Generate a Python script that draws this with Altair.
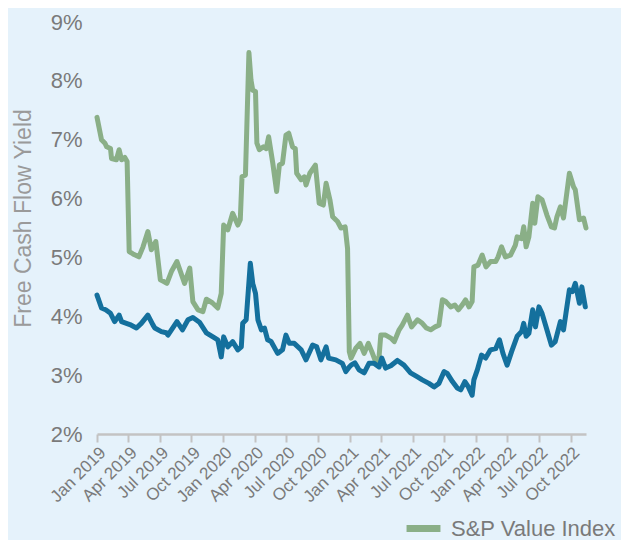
import altair as alt
import pandas as pd

green_dates = ["2019-01-01","2019-01-14","2019-01-24","2019-01-29","2019-02-09","2019-02-12","2019-02-26","2019-03-06","2019-03-13","2019-03-22","2019-03-29",
"2019-04-04","2019-04-15","2019-05-02","2019-05-14","2019-05-28","2019-06-07","2019-06-20","2019-07-03","2019-07-13","2019-07-22","2019-08-04","2019-08-20",
"2019-09-11","2019-09-26","2019-10-05","2019-10-20","2019-11-03","2019-11-13","2019-11-30","2019-12-16","2019-12-26",
"2020-01-02","2020-01-14","2020-01-28","2020-02-12","2020-02-19","2020-02-24","2020-03-05","2020-03-15","2020-03-21","2020-03-26","2020-04-03","2020-04-07",
"2020-04-14","2020-04-26","2020-05-04","2020-05-11","2020-05-23","2020-06-03","2020-06-11","2020-06-20","2020-06-30","2020-07-08","2020-07-19","2020-07-27",
"2020-07-31","2020-08-13","2020-08-22","2020-08-27","2020-09-07","2020-09-23","2020-10-04","2020-10-16","2020-10-24","2020-11-04","2020-11-12","2020-11-26",
"2020-12-06","2020-12-18","2020-12-25","2020-12-30",
"2021-01-04","2021-01-18","2021-01-30","2021-02-11","2021-02-23","2021-03-05","2021-03-16","2021-03-26","2021-03-31","2021-04-14","2021-04-29","2021-05-09",
"2021-05-23","2021-06-01","2021-06-16","2021-06-28","2021-07-15","2021-07-29","2021-08-10","2021-08-22","2021-09-04","2021-09-15","2021-09-25","2021-10-05",
"2021-10-19","2021-10-31","2021-11-10","2021-11-21","2021-12-01","2021-12-11","2021-12-20","2021-12-25",
"2022-01-06","2022-01-18","2022-01-29","2022-02-11","2022-02-26","2022-03-05","2022-03-15","2022-03-26","2022-04-10","2022-04-24","2022-04-29","2022-05-12",
"2022-05-18","2022-05-25","2022-06-02","2022-06-13","2022-06-19","2022-06-28","2022-07-10","2022-07-24","2022-08-06","2022-08-15","2022-08-22","2022-09-01",
"2022-09-10","2022-09-17","2022-09-27","2022-10-09","2022-10-14","2022-10-26","2022-11-07","2022-11-14"]
green_values = [7.38,7.00,6.94,6.88,6.85,6.68,6.66,6.83,6.66,6.70,6.63,
5.10,5.06,5.01,5.18,5.44,5.13,5.27,4.62,4.59,4.56,4.76,4.93,
4.56,4.82,4.25,4.11,4.08,4.29,4.23,4.14,4.39,
5.55,5.47,5.75,5.55,5.64,6.37,6.40,8.48,8.01,7.84,7.82,6.94,
6.83,6.88,6.85,7.05,6.60,6.12,6.57,6.60,7.08,7.11,6.88,6.85,
6.43,6.32,6.37,6.23,6.43,6.57,5.92,5.89,6.26,5.98,5.69,5.61,
5.50,5.52,5.15,3.40,
3.29,3.46,3.54,3.37,3.54,3.40,3.23,3.31,3.68,3.68,3.63,3.57,
3.77,3.85,4.02,3.82,3.94,3.88,3.80,3.77,3.82,3.85,4.28,4.25,
4.16,4.19,4.11,4.19,4.28,4.16,4.25,4.84,
4.87,5.04,4.84,4.93,4.93,5.01,5.18,5.01,5.04,5.21,5.35,5.32,
5.52,5.18,5.35,5.92,5.58,6.03,5.98,5.72,5.52,5.50,5.69,5.86,
5.67,5.98,6.43,6.20,6.15,5.64,5.67,5.50]

blue_dates = ["2019-01-01","2019-01-14","2019-01-26","2019-02-09","2019-02-21","2019-03-06","2019-03-13","2019-04-06","2019-04-25","2019-05-09","2019-05-28",
"2019-06-12","2019-06-17","2019-07-06","2019-07-20","2019-07-25","2019-08-20","2019-09-05","2019-09-21","2019-10-05","2019-10-24","2019-11-13","2019-12-02",
"2019-12-16","2019-12-26",
"2020-01-02","2020-01-14","2020-01-28","2020-02-12","2020-02-22","2020-02-26","2020-03-07","2020-03-19","2020-03-26","2020-04-03","2020-04-10","2020-04-20",
"2020-04-29","2020-05-08","2020-05-18","2020-06-06","2020-06-20","2020-06-30","2020-07-10","2020-07-24","2020-08-13","2020-08-27","2020-09-15","2020-09-27",
"2020-10-09","2020-10-24","2020-10-31","2020-11-21","2020-12-10","2020-12-20","2020-12-30",
"2021-01-04","2021-01-15","2021-01-27","2021-02-11","2021-02-25","2021-03-12","2021-03-26","2021-04-03","2021-04-14","2021-04-29","2021-05-18","2021-06-06",
"2021-06-25","2021-07-15","2021-07-29","2021-08-17","2021-09-01","2021-09-15","2021-09-30","2021-10-09","2021-10-24","2021-11-07","2021-11-17","2021-11-29",
"2021-12-09","2021-12-20","2021-12-25",
"2022-01-04","2022-01-16","2022-01-28","2022-02-11","2022-02-26","2022-03-09","2022-03-19","2022-03-31","2022-04-13","2022-04-29","2022-05-12","2022-05-18",
"2022-05-25","2022-06-02","2022-06-13","2022-06-21","2022-07-01","2022-07-10","2022-07-24","2022-08-06","2022-08-17","2022-09-01","2022-09-10","2022-09-17",
"2022-09-27","2022-10-06","2022-10-14","2022-10-26","2022-11-02","2022-11-12"]
blue_values = [4.36,4.14,4.11,4.05,3.91,4.02,3.91,3.86,3.80,3.88,4.02,
3.85,3.80,3.74,3.72,3.68,3.91,3.77,3.94,3.98,3.90,3.72,3.65,
3.60,3.31,
3.65,3.48,3.57,3.43,3.48,3.88,3.94,4.90,4.56,4.39,3.94,3.77,
3.80,3.60,3.57,3.37,3.43,3.68,3.54,3.54,3.43,3.26,3.51,3.48,
3.26,3.48,3.29,3.26,3.20,3.06,3.14,
3.17,3.21,3.09,3.04,3.20,3.20,3.14,3.29,3.12,3.16,3.25,3.17,
3.04,2.97,2.92,2.86,2.80,2.86,3.06,3.03,2.89,2.78,2.75,2.89,
2.80,2.66,2.92,
3.09,3.34,3.29,3.43,3.45,3.60,3.37,3.17,3.40,3.66,3.74,3.88,
3.66,3.71,4.11,3.82,4.16,4.05,3.77,3.51,3.57,3.91,3.77,4.05,
4.45,4.42,4.56,4.22,4.50,4.16]

series_names = ["S&P Value Index", "Other Index"]
colors = ["#8AAF87", "#14709D"]
y_ticks = [2, 3, 4, 5, 6, 7, 8, 9]
x_start, x_end = "2019-01-01", "2022-11-14"

df = pd.concat([
    pd.DataFrame({"date": green_dates, "value": green_values, "series": series_names[0]}),
    pd.DataFrame({"date": blue_dates, "value": blue_values, "series": series_names[1]}),
])

bg = "#E5F2FB"
font = "Liberation Sans"

x = alt.X("date:T",
          scale=alt.Scale(domain=[x_start, x_end], nice=False),
          axis=alt.Axis(title=None, format="%b %Y", tickCount={"interval": "month", "step": 3},
                        labelAngle=-45, labelFontSize=17, labelColor="#7a7a7a",
                        labelFont=font, domainColor="#c3c3c3", domainWidth=2.5,
                        tickColor="#c3c3c3", tickWidth=2, tickSize=8, labelPadding=2,
                        grid=False, labelOverlap=False))
y = alt.Y("value:Q",
          scale=alt.Scale(domain=[2, 9], nice=False, zero=False),
          axis=alt.Axis(title="Free Cash Flow Yield", values=y_ticks, labelExpr="datum.value + '%'",
                        labelFontSize=22, labelColor="#7a7a7a", labelFont=font,
                        labelPadding=15, domain=False, ticks=False, grid=False,
                        titleFontSize=23, titleColor="#9a9a9a", titleFont=font,
                        titleFontWeight="normal", titleX=-74, titleY=196,
                        titleBaseline="middle", titleAlign="center", titleAngle=-90))

chart = alt.Chart(df).mark_line(strokeWidth=5, strokeJoin="round", strokeCap="round").encode(
    x=x, y=y,
    color=alt.Color("series:N",
                    scale=alt.Scale(domain=series_names, range=colors),
                    legend=alt.Legend(title=None, orient="none", legendX=306, legendY=486,
                                      values=[series_names[0]], symbolType="stroke",
                                      symbolStrokeWidth=7, symbolSize=1150, labelOffset=7,
                                      labelFontSize=22, labelColor="#7a7a7a",
                                      labelFont=font, labelLimit=400)),
    detail="series:N",
).properties(width=489, height=412, background=bg,
             padding={"left": 89, "top": 14, "right": 35, "bottom": 106},
             autosize=alt.AutoSizeParams(type="none")
).configure_view(stroke=None)

chart.save("out.html", embed_options={"renderer": "svg", "actions": False})
